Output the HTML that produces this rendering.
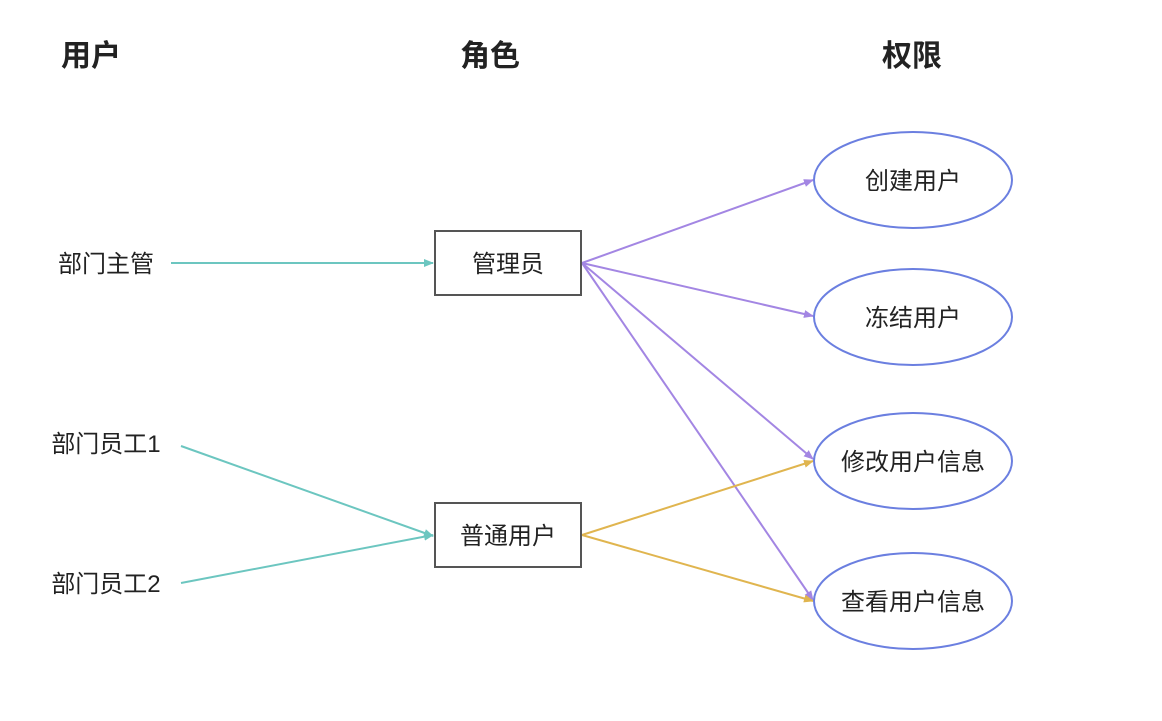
<!DOCTYPE html>
<html><head><meta charset="utf-8"><style>
html,body{margin:0;padding:0;background:#fff;}
svg text{font-family:"Liberation Sans","Noto Sans CJK SC",sans-serif;fill:#222;}
</style></head><body>
<svg width="1162" height="716" viewBox="0 0 1162 716" xmlns="http://www.w3.org/2000/svg">
<defs>
<marker id="t" markerWidth="10" markerHeight="8" refX="9" refY="4" orient="auto" markerUnits="userSpaceOnUse"><path d="M0,0 L10,4 L0,8 Z" fill="#6cc6c0"/></marker>
<marker id="p" markerWidth="10" markerHeight="8" refX="9" refY="4" orient="auto" markerUnits="userSpaceOnUse"><path d="M0,0 L10,4 L0,8 Z" fill="#a386e3"/></marker>
<marker id="g" markerWidth="10" markerHeight="8" refX="9" refY="4" orient="auto" markerUnits="userSpaceOnUse"><path d="M0,0 L10,4 L0,8 Z" fill="#e0b54f"/></marker>
</defs>
<g font-weight="bold" font-size="30">
<text x="91" y="66" text-anchor="middle">用户</text>
<text x="490" y="66" text-anchor="middle">角色</text>
<text x="912" y="66" text-anchor="middle">权限</text>
</g>
<g font-size="24">
<text x="106" y="272" text-anchor="middle">部门主管</text>
<text x="106" y="452" text-anchor="middle">部门员工1</text>
<text x="106" y="592" text-anchor="middle">部门员工2</text>
</g>
<g stroke="#6cc6c0" stroke-width="2" fill="none">
<line x1="171" y1="263" x2="433" y2="263" marker-end="url(#t)"/>
<line x1="181" y1="446" x2="433" y2="536" marker-end="url(#t)"/>
<line x1="181" y1="583" x2="433" y2="535" marker-end="url(#t)"/>
</g>
<g stroke="#a386e3" stroke-width="2" fill="none">
<line x1="582" y1="263" x2="813" y2="180" marker-end="url(#p)"/>
<line x1="582" y1="263" x2="813" y2="316" marker-end="url(#p)"/>
<line x1="582" y1="263" x2="813" y2="459" marker-end="url(#p)"/>
<line x1="582" y1="263" x2="813" y2="600" marker-end="url(#p)"/>
</g>
<g stroke="#e0b54f" stroke-width="2" fill="none">
<line x1="582" y1="535" x2="813" y2="461" marker-end="url(#g)"/>
<line x1="582" y1="535" x2="813" y2="601" marker-end="url(#g)"/>
</g>
<g fill="#fff" stroke="#555" stroke-width="2">
<rect x="435" y="231" width="146" height="64"/>
<rect x="435" y="503" width="146" height="64"/>
</g>
<g fill="#fff" stroke="#6b7fe0" stroke-width="2">
<ellipse cx="913" cy="180" rx="99" ry="48"/>
<ellipse cx="913" cy="317" rx="99" ry="48"/>
<ellipse cx="913" cy="461" rx="99" ry="48"/>
<ellipse cx="913" cy="601" rx="99" ry="48"/>
</g>
<g font-size="24" text-anchor="middle">
<text x="508" y="272">管理员</text>
<text x="508" y="544">普通用户</text>
<text x="913" y="189">创建用户</text>
<text x="913" y="326">冻结用户</text>
<text x="913" y="470">修改用户信息</text>
<text x="913" y="610">查看用户信息</text>
</g>
</svg>
</body></html>
